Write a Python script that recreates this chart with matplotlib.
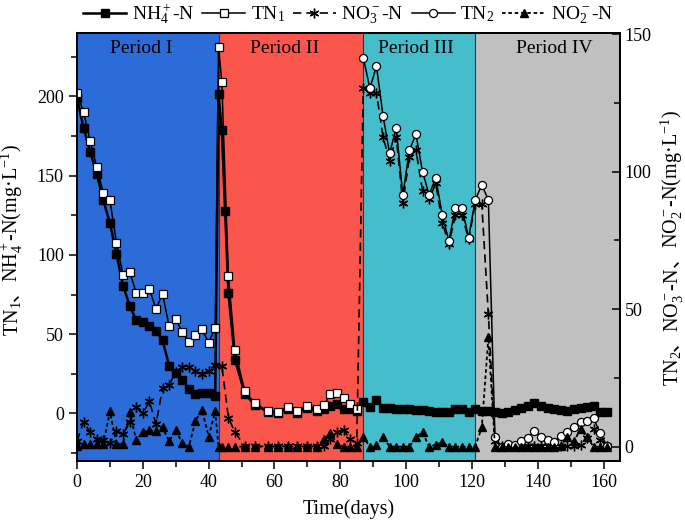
import numpy as np
import matplotlib
matplotlib.use("Agg")
import matplotlib.pyplot as plt
from matplotlib.ticker import MultipleLocator

plt.rcParams.update({
    "font.family": ["Liberation Serif", "Noto Sans CJK SC"],
    "mathtext.fontset": "custom",
    "mathtext.rm": "Liberation Serif",
    "mathtext.it": "Liberation Serif:italic",
    "font.size": 11,
})
BLUE, RED, CYAN, GREY = "#2B6CD8", "#FA564C", "#46BDCB", "#C0C0C0"
W, H = 685, 524

# --- data (days, mg/L) ---
d1 = list(range(0, 43, 2))
d2 = [43, 44, 46, 48, 51, 54, 58, 61, 64, 67, 70, 73, 75, 77, 79, 81, 83, 85]
d34 = list(range(87, 162, 2))

days_tn1 = d1 + d2
tn1 = [202, 190, 172, 155.5, 139, 134.6, 107.7, 87.2, 89.5, 76, 76, 78.4, 66, 75.3,
       55, 59.5, 51.4, 44.8, 49.7, 53, 44.7, 54,
       231.4, 209.4, 86.8, 39.8, 14, 6.7, 1.5, 0.8, 4.2, 1.3, 5, 2.5, 5.5, 12.1,
       12.6, 9.9, 5.7, 2.5]

days_nh4 = d1 + [43, 44, 45] + d2[2:] + d34
nh4 = [199, 180, 165, 151, 134.6, 120, 100.4, 80.7, 68, 58.7, 57.7, 55.3, 51.8, 46.1,
       30.2, 25.2, 21, 15.7, 12.4, 13, 13, 10.9,
       201.7, 179, 128, 75.9, 34, 12.5, 5.5, 1.0, 0.3, 3.0, 0.5, 3.5, 1.5, 2.9, 4.6,
       5.7, 2.9, 2.5, 1.5,
       7.1, 4.0, 8.4, 3.6, 3.2, 2.9, 2.7, 2.5, 2.2, 1.9, 1.5, 1.2, 1.0, 0.6, 3.1,
       2.8, 0.6, 2.5,
       1.5, 1.5, 0.8, 0.0, 0.8, 2.0, 3.6, 5.0, 6.7, 4.6, 3.5, 2.5, 2.0, 1.5, 2.5,
       3.6, 4.0, 4.6, 1.0, 1.0]

days_no3 = d1 + d2[1:] + d34
no3 = [2.0, 9.1, 5.2, 2.8, 2.4, 1.2, 5.8, 4.6, 8.8, 14.3, 12.2, 16.5, 8.2, 21.2,
       22.4, 27.2, 28.8, 29.0, 27.4, 26.6, 27.5, 29.7,
       29.4, 10.6, 5.2, 0.2, 0.1, 0.2, 0.1, 0.2, 0.1, 0.2, 0.1, 0.2, 2.8, 5.2, 6.1,
       2.7, 1.2,
       130.5, 128.7, 128.7, 112.6, 103.9, 112.6, 88.7, 105.3, 107.8, 93.0, 90.0,
       95.7, 81.5, 73.6, 84.3, 84.3, 75.4, 88.2,
       88.2, 48.2, 2.2, 0.3, 0.2, 0.2, 0.2, 0.3, 0.2, 0.2, 0.3, 0.2, 0.1, 0.2, 0.2,
       0.5, 3.2, 6.4, 2.6, 0.2]

days_tn2 = d34
tn2 = [141.4, 130.3, 138.3, 120.2, 106.7, 115.8, 91.4, 107.8, 113.6, 99.9, 91.6,
       97.8, 84.2, 74.8, 86.9, 86.7, 76.0, 89.6,
       95.2, 89.7, 3.6, 0.0, 1.0, 0.5, 2.2, 3.2, 5.8, 3.6, 2.5, 1.6, 4.0, 5.2, 7.3,
       9.1, 9.2, 10.3, 4.8, 0.4]

days_no2 = d1 + d2 + d34
no2 = [0.4, 1.0, 1.0, 1.0, 1.0, 12.8, 1.0, 1.0, 12.5, 2.4, 5.2, 6.0, 5.6, 7.0,
       1.9, 6.2, 1.2, 0.0, 9.4, 13.3, 3.7, 12.8,
       0, 0, 0, 0, 0, 0, 0, 0, 0, 0, 0, 0, 2.8, 4.9, 1.0, 0, 0, 0,
       3.4, 0, 0.7, 3.6, 0, 0, 0, 0, 3.6, 5.2, 0, 0.7, 1.6, 0, 0, 0, 0, 0,
       7.0, 39.7, 0, 0, 0, 0, 0, 0, 0, 0, 0, 0, 0.3, 3.4, 2.0, 6.4, 3.4, 0, 0, 0]

periods = ["Period I", "Period II", "Period III", "Period IV"]
period_bounds = [0, 43, 87, 121, 165]
period_colors = [BLUE, RED, CYAN, GREY]
period_text_x = [19.5, 63, 103, 145]

fig = plt.figure(figsize=(W / 100, H / 100), dpi=100)
ax = fig.add_axes([77 / W, 63 / H, 543 / W, 428 / H])
for i in range(4):
    ax.axvspan(period_bounds[i], period_bounds[i + 1], color=period_colors[i], zorder=0, lw=0)
    ax.text(period_text_x[i], 0.963, periods[i], transform=ax.get_xaxis_transform(),
            ha="center", va="center", fontsize=14)
for b in period_bounds[1:-1]:
    ax.axvline(b, color="#333333", lw=0.8, zorder=0.5)

l_nh4, = ax.plot(days_nh4, nh4, "-s", color="k", lw=1.8, ms=5.5, mfc="k", mec="k", zorder=3)
l_tn1, = ax.plot(days_tn1, tn1, "-s", color="k", lw=1.1, ms=5.8, mfc="white", mec="k",
                 mew=0.9, zorder=4)

ax2 = ax.twinx()
l_no3, = ax2.plot(days_no3, no3, ls=(0, (5, 3)), color="k", lw=1.2, marker=(6, 2, 0),
                  ms=7, mec="k", mew=1.0)
l_tn2, = ax2.plot(days_tn2, tn2, "-o", color="k", lw=1.1, ms=5.8, mfc="white", mec="k",
                  mew=0.9)
l_no2, = ax2.plot(days_no2, no2, ls=(0, (2, 1.5)), color="k", lw=1.3, marker="^",
                  ms=6, mfc="k", mec="k")

ax.set_xlim(0, 165)
ax.set_ylim(-30, 240)
ax2.set_ylim(-5.2, 150.4)
ax.xaxis.set_major_locator(MultipleLocator(20))
ax.xaxis.set_minor_locator(MultipleLocator(10))
ax.yaxis.set_major_locator(MultipleLocator(50))
ax.yaxis.set_minor_locator(MultipleLocator(25))
ax2.yaxis.set_major_locator(MultipleLocator(50))
ax2.yaxis.set_minor_locator(MultipleLocator(25))
ax.tick_params(axis="both", which="major", direction="out", length=6, width=1.1, labelsize=13)
ax.tick_params(axis="both", which="minor", direction="out", length=4, width=1.1)
ax.tick_params(top=False, right=False, which="both")
ax2.tick_params(axis="y", which="major", direction="in", length=6, width=1.1, labelsize=13)
ax2.tick_params(axis="y", which="minor", direction="in", length=4, width=1.1)
for a in (ax, ax2):
    for s in a.spines.values():
        s.set_linewidth(1.3)

ax.set_xlabel("Time(days)", fontsize=14.5, labelpad=6)


def vertical_label(pieces, x_px, yc_px, size):
    # rotated label built from pieces so the CJK comma gets its own font
    texts = []
    for s in pieces:
        fam = ["Noto Sans CJK SC"] if s == "、" else ["Liberation Serif"]
        texts.append(fig.text(0, 0, s, rotation=90, rotation_mode="anchor", ha="left",
                              va="baseline", fontsize=size, family=fam))
    r = fig.canvas.get_renderer()
    em = size * 100 / 72
    lens = [em * 0.95 if s == "、" else t.get_window_extent(r).height
            for s, t in zip(pieces, texts)]
    y = (H - yc_px) - sum(lens) / 2
    for t, L in zip(texts, lens):
        t.set_position((x_px / W, y / H))
        y += L


vertical_label(["TN$_1$", "、", "NH$_4^+$-N(mg·L$^{-1}$)"], 18, 240, 14.5)
vertical_label(["TN$_2$", "、", "NO$_3^-$-N", "、", "NO$_2^-$-N(mg·L$^{-1}$)"], 678, 248, 14.5)

handles = [l_nh4, l_tn1, l_no3, l_tn2, l_no2]
labels = ["NH$_4^+$-N", "TN$_1$", "NO$_3^-$-N", "TN$_2$", "NO$_2^-$-N"]
fig.legend(handles, labels, loc="center", bbox_to_anchor=((77 + 620) / 2 / W, 1 - 14 / H),
           ncol=5, frameon=False, fontsize=14, handlelength=2.2, columnspacing=0.4,
           handletextpad=0.3)

fig.savefig("out.png", dpi=100)
